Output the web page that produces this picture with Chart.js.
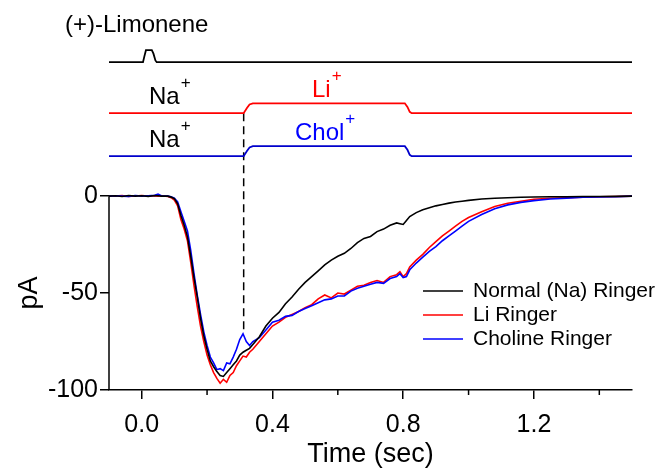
<!DOCTYPE html>
<html>
<head>
<meta charset="utf-8">
<script src="https://cdn.jsdelivr.net/npm/chart.js@4.4.1/dist/chart.umd.min.js"></script>
<style>
  html, body { margin: 0; padding: 0; background: #fff; }
  #wrap { width: 661px; height: 471px; }
</style>
</head>
<body>
<div id="wrap"><canvas id="limoneneChart" width="661" height="471"></canvas></div>
<script>
// time base of the current traces (sec)
const timeSec = [-0.1, -0.08, -0.06, -0.04, -0.02, 0, 0.02, 0.04, 0.05, 0.06, 0.08,
  0.09, 0.10, 0.11, 0.12, 0.13, 0.14, 0.15, 0.16, 0.17, 0.18, 0.19, 0.20, 0.21, 0.22, 0.23,
  0.24, 0.25, 0.26, 0.27, 0.28, 0.29, 0.30, 0.31, 0.32, 0.33, 0.34,
  0.36, 0.38, 0.40, 0.42, 0.44, 0.46, 0.48, 0.50, 0.52, 0.54, 0.56, 0.58, 0.60, 0.62, 0.64,
  0.66, 0.68, 0.70, 0.72, 0.74, 0.76, 0.78,
  0.79, 0.80, 0.81, 0.82,
  0.84, 0.86, 0.88, 0.90, 0.92, 0.94, 0.96, 0.98, 1.00,
  1.04, 1.08, 1.12, 1.16, 1.20,
  1.25, 1.30, 1.35, 1.40, 1.45, 1.50];

// current (pA)
const normalRinger = [0, 0.2, -0.2, 0.3, 0, 0.2, -0.1, 0.3, 0.2, 0, 0,
  -0.5, -1.3, -4, -10, -15, -21, -31, -42, -52, -63, -72, -79, -85, -88, -90.5,
  -92.5, -93, -91, -89, -87, -85, -82, -80.5, -79.5, -78.5, -76.5,
  -72.5, -67, -63, -60, -55.5, -52, -48, -44.5, -41.5, -38.5, -35.5, -33, -31, -29.5, -27,
  -24, -21.8, -20.8, -18.3, -17, -15, -13.8,
  -14.2, -14.6, -12.5, -10.5,
  -8.5, -7, -6, -5, -4.3, -3.6, -3, -2.6, -2.2,
  -1.5, -1.1, -0.8, -0.6, -0.4,
  -0.3, -0.3, -0.2, -0.2, -0.1, 0];

const liRinger = [0.2, 0, 0.3, -0.2, 0.1, 0.3, 0, 0.2, 0, 0.2, -0.2,
  -0.8, -2, -5, -12, -17, -23, -34, -46, -57, -67, -75, -82, -87, -91, -94,
  -96.5, -94.5, -96, -92.5, -91, -87.5, -85, -82.5, -83, -80.5, -79,
  -75, -71, -67, -65, -62.5, -61, -59.5, -57.5, -56, -53, -51, -52.5, -50, -50.5, -48.5,
  -46.5, -46, -44.5, -43.5, -44.5, -41.5, -40.5,
  -39, -41.5, -40, -36.5,
  -33, -30, -26.5, -23.5, -20.5, -18, -15.5, -13, -11,
  -8, -5.3, -3.7, -2.6, -1.6,
  -1.1, -0.8, -0.5, -0.3, -0.2, 0];

const cholineRinger = [0, 0.2, 0, -0.2, 0.3, 0, 0.2, 0.4, 1, 0.2, 0,
  -0.3, -1, -3, -8, -13, -18, -28, -40, -51, -61, -70, -77, -83, -86, -89.5,
  -89, -90, -86, -86.5, -83, -79, -74, -71, -75, -77, -75,
  -73, -69, -65, -64, -62, -61.5, -59.5, -58, -56.5, -55, -53.5, -53, -51.5, -51.5, -49,
  -47.5, -46.5, -45.5, -44.5, -45, -42.5, -41.5,
  -40, -42, -41.5, -38,
  -34.5, -31.5, -28.5, -26, -23, -20.5, -18, -15.5, -13,
  -9.5, -6.5, -4.5, -3.2, -2.3,
  -1.5, -1, -0.6, -0.4, -0.3, 0];

// stimulus monitor traces (drawn above the current, same y units)
const odorTime = [-0.1, 0.004, 0.008, 0.013, 0.031, 0.036, 0.042, 0.046, 1.5];
const odorTrace = [69.1, 69.1, 72, 75.3, 75.3, 73.5, 70, 69.1, 69.1];
const solutionTime = [-0.1, 0.312, 0.322, 0.33, 0.34, 0.805, 0.813, 0.82, 0.826, 1.5];
const liTrace = [42.8, 42.8, 45.5, 47.3, 47.9, 47.9, 46, 43.5, 42.8, 42.8];
const cholTrace = [20.6, 20.6, 23.3, 25.1, 25.8, 25.8, 23.9, 21.3, 20.6, 20.6];
const switchTime = 0.312;
const switchRange = [42.8, -70];

const xTickValues = [0, 0.4, 0.8, 1.2];
const xMinorValues = [0.2, 0.6, 1.0, 1.4];
const yTickValues = [-100, -50, 0];
const legendLabels = ["Normal (Na) Ringer", "Li Ringer", "Choline Ringer"];
const legendColors = ["#000000", "#ff0000", "#0000ff"];

const FONT = "'Liberation Sans', Arial, sans-serif";

const pts = (xs, ys) => xs.map((t, i) => ({ x: t, y: ys[i] }));

const decor = {
  id: "decor",
  afterDraw(chart) {
    const { ctx, scales: { x, y } } = chart;
    ctx.save();
    ctx.strokeStyle = "#000";
    ctx.lineWidth = 1.5;

    // y axis line only over the current range
    ctx.beginPath();
    ctx.moveTo(x.left, y.getPixelForValue(0));
    ctx.lineTo(x.left, y.getPixelForValue(-100));
    ctx.stroke();

    // minor x ticks
    xMinorValues.forEach((v) => {
      const px = x.getPixelForValue(v);
      ctx.beginPath();
      ctx.moveTo(px, y.bottom);
      ctx.lineTo(px, y.bottom + 5);
      ctx.stroke();
    });

    // y title, centred on the current range
    ctx.save();
    ctx.fillStyle = "#000";
    ctx.font = "27px " + FONT;
    ctx.textAlign = "center";
    ctx.textBaseline = "middle";
    ctx.translate(30, (y.getPixelForValue(0) + y.getPixelForValue(-100)) / 2);
    ctx.rotate(-Math.PI / 2);
    ctx.fillText("pA", 0, 0);
    ctx.restore();

    // trace labels
    const label = (txt, sup, left, cy, color) => {
      ctx.fillStyle = color;
      ctx.textBaseline = "middle";
      ctx.textAlign = "left";
      ctx.font = "24px " + FONT;
      ctx.fillText(txt, left, cy);
      const w = ctx.measureText(txt).width;
      if (sup) {
        ctx.font = "17px " + FONT;
        ctx.fillText(sup, left + w + 1, cy - 14);
      }
    };
    label("(+)-Limonene", null, 65, 25, "#000");
    label("Na", "+", 149, 97, "#000");
    label("Na", "+", 149, 140, "#000");
    label("Li", "+", 312, 90, "#ff0000");
    label("Chol", "+", 295, 133, "#0000ff");

    // legend
    ctx.font = "21px " + FONT;
    ctx.textBaseline = "middle";
    ctx.textAlign = "left";
    legendLabels.forEach((txt, i) => {
      const cy = 291 + i * 24;
      ctx.strokeStyle = legendColors[i];
      ctx.lineWidth = 1.5;
      ctx.beginPath();
      ctx.moveTo(423, cy);
      ctx.lineTo(463, cy);
      ctx.stroke();
      ctx.fillStyle = "#000";
      ctx.fillText(txt, 473, cy);
    });
    ctx.restore();
  },
};

new Chart(document.getElementById("limoneneChart"), {
  type: "line",
  data: {
    datasets: [
      { data: pts(timeSec, normalRinger), borderColor: "#000000", borderWidth: 1.6, order: 0 },
      { data: pts(timeSec, cholineRinger), borderColor: "#0000ff", borderWidth: 1.6, order: 1 },
      { data: pts(timeSec, liRinger), borderColor: "#ff0000", borderWidth: 1.6, order: 2 },
      { data: pts(odorTime, odorTrace), borderColor: "#000000", borderWidth: 1.8, order: 3 },
      { data: pts(solutionTime, liTrace), borderColor: "#ff0000", borderWidth: 1.8, order: 3 },
      { data: pts(solutionTime, cholTrace), borderColor: "#0000cc", borderWidth: 1.8, order: 3 },
      {
        data: pts([switchTime, switchTime], switchRange),
        borderColor: "#000000", borderWidth: 1.5, borderDash: [8, 5], order: 4,
      },
    ],
  },
  options: {
    responsive: false,
    animation: false,
    parsing: false,
    events: [],
    elements: { point: { radius: 0 }, line: { tension: 0, fill: false } },
    layout: { padding: { left: 0, right: 29, top: 12, bottom: 0 } },
    plugins: { legend: { display: false }, tooltip: { enabled: false } },
    scales: {
      x: {
        type: "linear",
        min: -0.1,
        max: 1.5,
        afterFit: (s) => { s.height = 81; s.paddingLeft = 0; s.paddingRight = 0; },
        afterBuildTicks: (s) => { s.ticks = xTickValues.map((v) => ({ value: v })); },
        border: { display: true, color: "#000", width: 1.5 },
        grid: { drawOnChartArea: false, drawTicks: true, tickLength: 9, color: "#000", lineWidth: 1.5 },
        ticks: {
          color: "#000",
          font: { family: FONT, size: 25 },
          padding: 11,
          maxRotation: 0,
          callback: (v) => v.toFixed(1),
        },
        title: {
          display: true,
          text: "Time (sec)",
          color: "#000",
          font: { family: FONT, size: 27 },
          padding: { top: 0, bottom: 0 },
        },
      },
      y: {
        type: "linear",
        min: -100,
        max: 95,
        afterFit: (s) => { s.width = 109; s.paddingTop = 0; s.paddingBottom = 0; },
        afterBuildTicks: (s) => { s.ticks = yTickValues.map((v) => ({ value: v })); },
        border: { display: false },
        grid: { drawOnChartArea: false, drawTicks: true, tickLength: 9, color: "#000", lineWidth: 1.5 },
        ticks: {
          color: "#000",
          font: { family: FONT, size: 25 },
          padding: 2,
          callback: (v) => String(v),
        },
      },
    },
  },
  plugins: [decor],
});
</script>
</body>
</html>
